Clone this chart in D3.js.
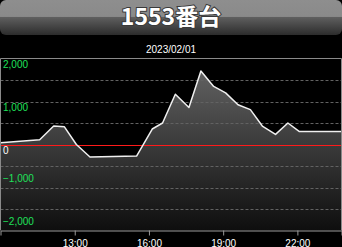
<!DOCTYPE html>
<html>
<head>
<meta charset="utf-8">
<script src="https://cdn.jsdelivr.net/npm/d3@7"></script>
<style>
  html, body { margin: 0; padding: 0; background: #000; overflow: hidden; }
  svg { display: block; }
</style>
</head>
<body>
<svg id="chart"></svg>
<script>
const width = 342;
const height = 247;

const title = "1553番台";
const dateLabel = "2023/02/01";

// data
const times = ["10:00", "11:35", "12:09", "12:35", "13:04", "13:37", "15:30", "16:08", "16:33", "17:04",
  "17:37", "18:06", "18:37", "19:06", "19:36", "20:06", "20:35", "21:07", "21:37", "22:05", "23:47"];
const values = [40, 110, 430, 410, 0, -290, -270, 360, 500, 1170,
  860, 1710, 1350, 1200, 925, 810, 430, 235, 500, 300, 300];
const yTicks = [2000, 1000, 0, -1000, -2000];
const gridTicks = [1500, 1000, 500, -500, -1000, -1500];
const xTicks = ["13:00", "16:00", "19:00", "22:00"];

const parseTime = d3.timeParse("%Y-%m-%d %H:%M");
const toDate = t => parseTime("2023-02-01 " + t);

const data = times.map((t, i) => ({ time: toDate(t), value: values[i] }));

const plot = { left: 0.5, right: 341.5, top: 58.5, bottom: 230.5 };

const svg = d3.select("#chart")
  .attr("width", width)
  .attr("height", height);

svg.append("rect")
  .attr("width", width)
  .attr("height", height)
  .attr("fill", "#000");

const defs = svg.append("defs");

// header gradient
const hg = defs.append("linearGradient")
  .attr("id", "headGrad")
  .attr("x1", 0).attr("y1", 0).attr("x2", 0).attr("y2", 1);
hg.append("stop").attr("offset", "0%").attr("stop-color", "#8e8e8e");
hg.append("stop").attr("offset", "47%").attr("stop-color", "#8a8a8a");
hg.append("stop").attr("offset", "50%").attr("stop-color", "#5e5e5e");
hg.append("stop").attr("offset", "100%").attr("stop-color", "#2c2c2c");

// area gradient
const ag = defs.append("linearGradient")
  .attr("id", "areaGrad")
  .attr("gradientUnits", "userSpaceOnUse")
  .attr("x1", 0).attr("y1", plot.top).attr("x2", 0).attr("y2", plot.bottom);
ag.append("stop").attr("offset", "0%").attr("stop-color", "#676767");
ag.append("stop").attr("offset", "100%").attr("stop-color", "#0e0e0e");

// Header
svg.append("rect")
  .attr("x", 0)
  .attr("y", 0)
  .attr("width", width)
  .attr("height", 35)
  .attr("rx", 6)
  .attr("fill", "url(#headGrad)");

svg.append("text")
  .attr("x", width / 2)
  .attr("y", 25)
  .attr("text-anchor", "middle")
  .style("font-family", "'Noto Sans CJK JP', 'Noto Sans', sans-serif")
  .style("font-size", "23px")
  .style("font-weight", "bold")
  .style("fill", "#fff")
  .style("stroke", "#3a3a3a")
  .style("stroke-width", "2px")
  .style("paint-order", "stroke")
  .text(title);

svg.append("text")
  .attr("x", width / 2)
  .attr("y", 53)
  .attr("text-anchor", "middle")
  .style("font-family", "'Liberation Sans', sans-serif")
  .style("font-size", "10px")
  .style("fill", "#fff")
  .text(dateLabel);

const x = d3.scaleTime()
  .domain([toDate("10:00"), toDate("23:47")])
  .range([plot.left, plot.right]);

const y = d3.scaleLinear()
  .domain([-2000, 2000])
  .range([plot.bottom, plot.top]);

// area + line
const area = d3.area()
  .x(d => x(d.time))
  .y0(y(-2000))
  .y1(d => y(d.value));

const line = d3.line()
  .x(d => x(d.time))
  .y(d => y(d.value));

svg.append("path")
  .datum(data)
  .attr("d", area)
  .attr("fill", "url(#areaGrad)");

// dashed grid lines, drawn over the fill
svg.append("g")
  .selectAll("line")
  .data(gridTicks)
  .enter()
  .append("line")
  .attr("x1", plot.left)
  .attr("x2", plot.right)
  .attr("y1", d => Math.round(y(d)) + 0.5)
  .attr("y2", d => Math.round(y(d)) + 0.5)
  .attr("stroke", "#626262")
  .attr("stroke-dasharray", "3,2");

// zero line
svg.append("line")
  .attr("x1", plot.left)
  .attr("x2", plot.right)
  .attr("y1", Math.round(y(0)) + 0.5)
  .attr("y2", Math.round(y(0)) + 0.5)
  .attr("stroke", "#ff1a1a")
  .attr("stroke-width", 1);

svg.append("path")
  .datum(data)
  .attr("d", line)
  .attr("fill", "none")
  .attr("stroke", "#f0f0f0")
  .attr("stroke-width", 1.5)
  .attr("stroke-linejoin", "round");

// frame
svg.append("path")
  .attr("d", `M${plot.left},${plot.bottom}V${plot.top}H${plot.right}V${plot.bottom}`)
  .attr("fill", "none")
  .attr("stroke", "#8a8a8a");

// x axis
const xAxis = svg.append("g")
  .attr("transform", `translate(0, ${plot.bottom})`)
  .call(d3.axisBottom(x)
    .tickValues(xTicks.map(toDate))
    .tickFormat(d3.timeFormat("%H:%M"))
    .tickSize(5)
    .tickPadding(4));

xAxis.select(".domain").attr("stroke", "#9a9a9a");
xAxis.selectAll(".tick line").attr("stroke", "#9a9a9a");
xAxis.selectAll(".tick text")
  .style("font-family", "'Liberation Sans', sans-serif")
  .style("font-size", "10px")
  .attr("fill", "#fff");

// y labels, positive ones under their line, negative ones above
svg.append("g")
  .selectAll("text")
  .data(yTicks)
  .enter()
  .append("text")
  .attr("x", 3)
  .attr("y", d => d >= 0 ? y(d) + 9 : y(d) - 6)
  .style("font-family", "'Liberation Sans', sans-serif")
  .style("font-size", "10px")
  .style("fill", d => d === 0 ? "#fff" : "#1fe05a")
  .text(d => d3.format(",")(d));
</script>
</body>
</html>
